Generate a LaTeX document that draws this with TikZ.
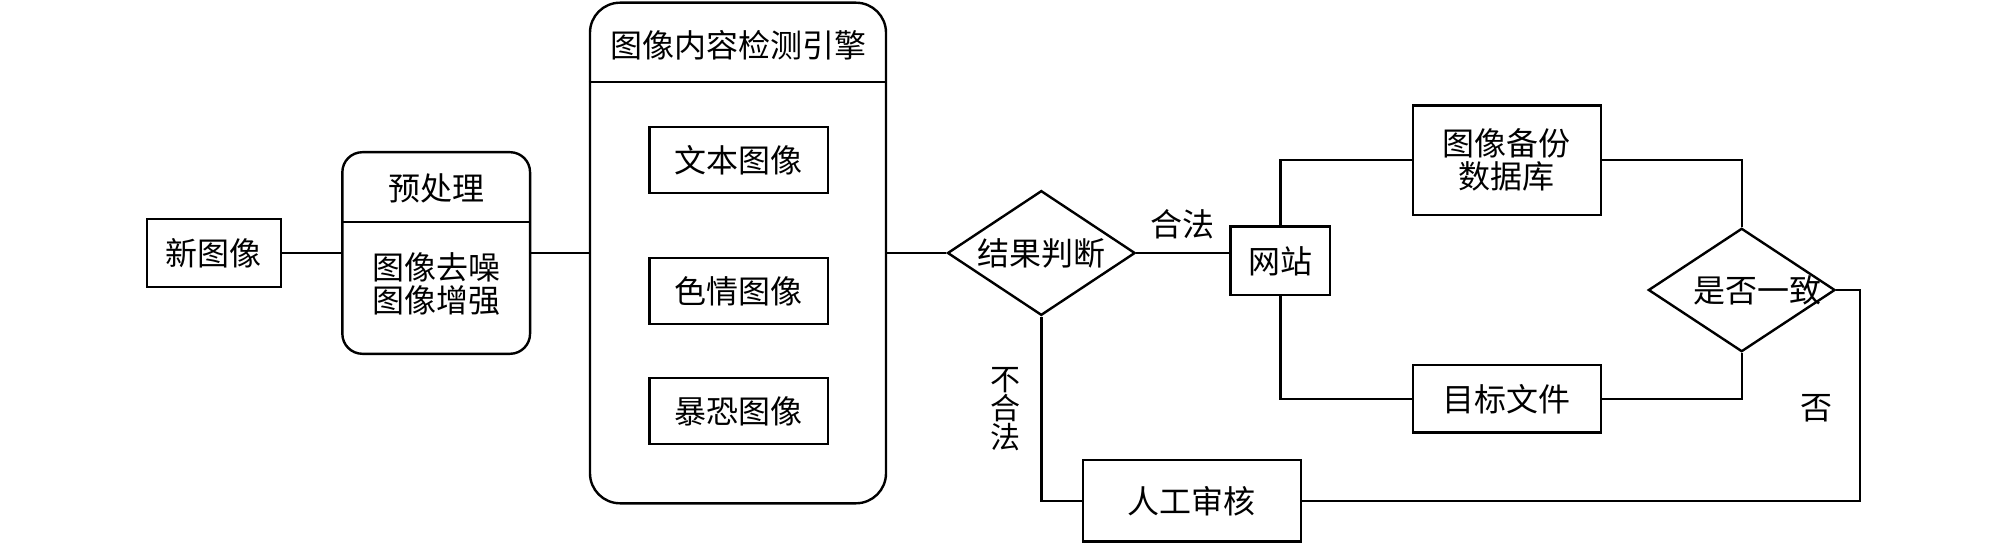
\documentclass[tikz,border=0pt]{standalone}
\usepackage{fontspec}
\newfontfamily\cjk{Noto Sans CJK SC}
\usepackage{tikz}
\usetikzlibrary{shapes.geometric, calc, positioning}

\begin{document}
\begin{tikzpicture}[x=0.5pt, y=-0.5pt, line width=1.2pt,
        font=\cjk\fontsize{16pt}{16.5pt}\selectfont,
        box/.style={draw, rectangle, inner sep=0pt, align=center},
        roundbox/.style={draw, rectangle, rounded corners=#1, inner sep=0pt},
        decide/.style={draw, diamond, inner sep=0pt, aspect=1.5},
        txt/.style={inner sep=0pt, align=center}]
    \useasboundingbox (0,0) rectangle (2008,545);

    % input and preprocessing
    \node[box, minimum width=67pt, minimum height=34pt] (new) at (213.7,253) {新图像};
    \node[roundbox=10pt, minimum width=93.85pt, minimum height=100.8pt] (pre) at (436.2,253) {};
    \draw ($(pre.north west)+(0,71)$) -- ($(pre.north east)+(0,71)$);
    \node[txt] (pretitle) at (436,188) {预处理};
    \node[txt] (prebody) at (436,284) {图像去噪\\图像增强};

    % detection engine
    \node[roundbox=15pt, minimum width=148pt, minimum height=250.3pt] (engine) at (738,253) {};
    \draw ($(engine.north west)+(0,80.6)$) -- ($(engine.north east)+(0,80.6)$);
    \node[txt] (enginetitle) at (738,45) {图像内容检测引擎};
    \node[box, minimum width=89.2pt, minimum height=33pt] (textimg) at (738.5,160.3) {文本图像};
    \node[box, minimum width=89.2pt, minimum height=33pt] (pornimg) at (738.5,291) {色情图像};
    \node[box, minimum width=89.2pt, minimum height=33pt] (terrorimg) at (738.5,411.2) {暴恐图像};

    % judgement and checking
    \node[decide, minimum width=93.85pt, minimum height=62.35pt] (judge) at (1041.3,253) {结果判断};
    \node[box, minimum width=49.65pt, minimum height=34.3pt] (site) at (1280.3,261) {网站};
    \node[box, minimum width=94pt, minimum height=54.65pt] (backup) at (1506.7,160.3) {图像备份\\数据库};
    \node[box, minimum width=94pt, minimum height=33.85pt] (target) at (1506.7,398.8) {目标文件};
    \node[decide, minimum width=93.35pt, minimum height=61.7pt,
        label={[xshift=8pt]center:是否一致}] (same) at (1741.7,290) {};
    \node[box, minimum width=109pt, minimum height=40.85pt] (manual) at (1191.7,500.8) {人工审核};

    \draw (new.east) -- (new.east -| pre.west);
    \draw (pre.east) -- (pre.east -| engine.west);
    \draw (engine.east |- judge.west) -- (judge.west);
    \draw (judge.east) -- (judge.east -| site.west) node[midway, above=3pt] (legal) {合法};
    \draw (site.north) |- (backup.west);
    \draw (site.south) |- (target.west);
    \draw (backup.east) -| (same.north);
    \draw (target.east) -| (same.south);
    \coordinate (bend) at (1860,290);
    \draw (same.east) -- (bend) |- (manual.east);
    \node[txt] (no) at (1816.7,408) {否};
    \draw (judge.south) |- (manual.west);
    \node[txt, font=\cjk\fontsize{15pt}{14.5pt}\selectfont] (illegal) at (1005,409) {不\\合\\法};
\end{tikzpicture}
\end{document}
